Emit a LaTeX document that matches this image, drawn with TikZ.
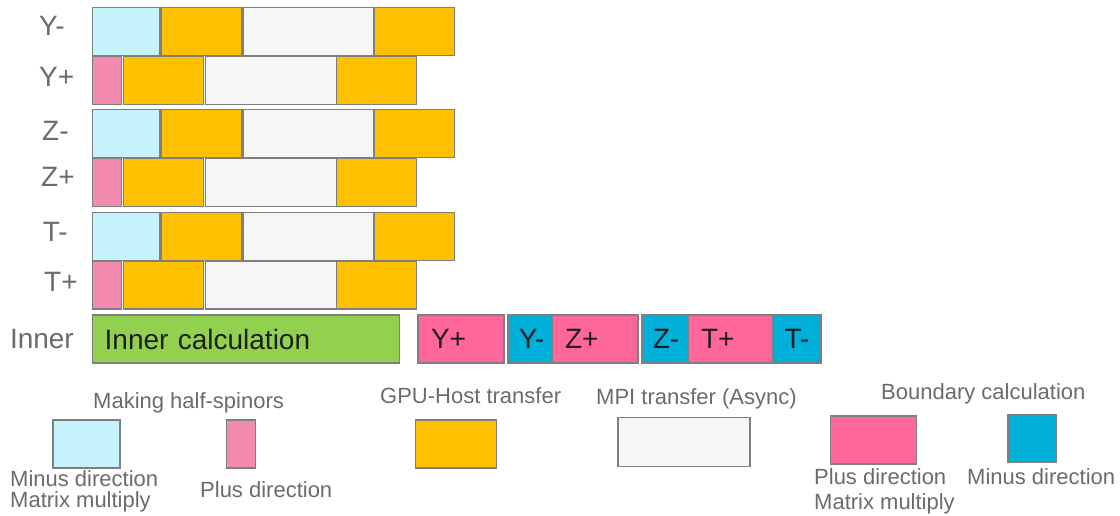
\documentclass[tikz,border=0pt]{standalone}
\usepackage{fontspec}
\setmainfont{Liberation Sans}
\usepackage{tikz}
\usetikzlibrary{positioning}

\definecolor{spincyan}{HTML}{C6F2FC}
\definecolor{spinpink}{HTML}{F28BAF}
\definecolor{gpugold}{HTML}{FFC000}
\definecolor{mpigray}{HTML}{F6F6F6}
\definecolor{bndpink}{HTML}{FF6699}
\definecolor{bndblue}{HTML}{00B0D9}
\definecolor{innergreen}{HTML}{92D050}
\definecolor{edgegray}{HTML}{7F7F7F}
\definecolor{labelgray}{HTML}{6B6B6B}
\definecolor{celltext}{HTML}{1E1E1E}

\begin{document}
\begin{tikzpicture}[
  x=1pt, y=-1pt,
  every node/.style={font=\fontsize{22}{26}\selectfont},
  cell/.style={
    rectangle, draw=edgegray, line width=1.2pt,
    minimum height=48pt, inner sep=0pt
  },
  halfminus/.style={cell, fill=spincyan, minimum width=67.3pt},
  halfplus/.style={cell, fill=spinpink, minimum width=28.6pt},
  gpu/.style={cell, fill=gpugold, minimum width=80.5pt},
  mpi/.style={cell, fill=mpigray, minimum width=131pt},
  innercalc/.style={
    cell, fill=innergreen, minimum width=307pt,
    text width=283pt, align=left, text=celltext,
    font=\fontsize{28}{32}\selectfont
  },
  bplus/.style={
    cell, fill=bndpink, minimum width=86pt,
    text width=60pt, align=left, text=celltext,
    font=\fontsize{28}{32}\selectfont
  },
  bminus/.style={
    cell, fill=bndblue, minimum width=48pt,
    text=celltext, font=\fontsize{28}{32}\selectfont
  },
  rowlabel/.style={
    anchor=west, inner sep=0pt, text=labelgray,
    font=\fontsize{28}{32}\selectfont
  },
  legtext/.style={
    anchor=base west, inner sep=0pt, text=labelgray
  }
]
\useasboundingbox (0,0) rectangle (1120,515);

% Row labels
\node[rowlabel] (lbl_ym) at (39,26) {Y-};
\node[rowlabel] (lbl_yp) at (39,77) {Y+};
\node[rowlabel] (lbl_zm) at (42,131) {Z-};
\node[rowlabel] (lbl_zp) at (41,176.7) {Z+};
\node[rowlabel] (lbl_tm) at (42.7,231.7) {T-};
\node[rowlabel] (lbl_tp) at (44,282) {T+};
\node[rowlabel] (lbl_in) at (9.8,339) {Inner};

% Y direction
\node[halfminus] (ym_spin) at (126.4,31.5) {};
\node[gpu] (ym_send) at (201.4,31.5) {};
\node[mpi] (ym_mpi) at (308.5,31.5) {};
\node[gpu] (ym_recv) at (414.5,31.5) {};

\node[halfplus] (yp_spin) at (107,80.3) {};
\node[gpu] (yp_send) at (163.5,80.3) {};
\node[mpi] (yp_mpi) at (270.7,80.3) {};
\node[gpu] (yp_recv) at (376.4,80.3) {};

% Z direction
\node[halfminus] (zm_spin) at (126.4,133.7) {};
\node[gpu] (zm_send) at (201.4,133.7) {};
\node[mpi] (zm_mpi) at (308.5,133.7) {};
\node[gpu] (zm_recv) at (414.5,133.7) {};

\node[halfplus] (zp_spin) at (107,182.3) {};
\node[gpu] (zp_send) at (163.5,182.3) {};
\node[mpi] (zp_mpi) at (270.7,182.3) {};
\node[gpu] (zp_recv) at (376.4,182.3) {};

% T direction
\node[halfminus] (tm_spin) at (126.4,236.3) {};
\node[gpu] (tm_send) at (201.4,236.3) {};
\node[mpi] (tm_mpi) at (308.5,236.3) {};
\node[gpu] (tm_recv) at (414.5,236.3) {};

\node[halfplus] (tp_spin) at (107,285) {};
\node[gpu] (tp_send) at (163.5,285) {};
\node[mpi] (tp_mpi) at (270.7,285) {};
\node[gpu] (tp_recv) at (376.4,285) {};

% Inner row and boundary calculation
\node[innercalc] (inner) at (246.2,339) {Inner calculation};

\node[bplus] (bnd_yp) at (461,339) {Y+};
\node[bminus, minimum width=47pt] (bnd_ym) at (531.5,339) {Y-};
\node[bplus] (bnd_zp) at (595,339) {Z+};
\node[bminus] (bnd_zm) at (666,339) {Z-};
\node[bplus, minimum width=85pt, text width=59pt] (bnd_tp) at (730.5,339) {T+};
\node[bminus] (bnd_tm) at (797,339) {T-};

% Legend
\node[legtext] (leg_spin) at (93,408) {Making half-spinors};
\node[halfminus, minimum width=67pt] (key_minus) at (86.5,444) {};
\node[halfplus, minimum width=29pt] (key_plus) at (241,444) {};
\node[legtext] (leg_minus) at (10,486.7) {Minus direction};
\node[legtext] (leg_mat) at (10,507.7) {Matrix multiply};
\node[legtext] (leg_plus) at (200,497.3) {Plus direction};

\node[legtext] (leg_gpu) at (380,403) {GPU-Host transfer};
\node[gpu, minimum width=80.6pt] (key_gpu) at (456,444) {};

\node[legtext] (leg_mpi) at (596,404) {MPI transfer (Async)};
\node[mpi, minimum width=132pt, minimum height=49pt] (key_mpi) at (684,442.2) {};

\node[legtext] (leg_bnd) at (881,399) {Boundary calculation};
\node[bplus] (key_bplus) at (873.6,440) {};
\node[bminus, minimum width=48.4pt] (key_bminus) at (1032.2,438.2) {};
\node[legtext] (leg_bplus) at (814,484.3) {Plus direction};
\node[legtext] (leg_bmat) at (814,509) {Matrix multiply};
\node[legtext] (leg_bminus) at (967,484.3) {Minus direction};

\end{tikzpicture}
\end{document}
